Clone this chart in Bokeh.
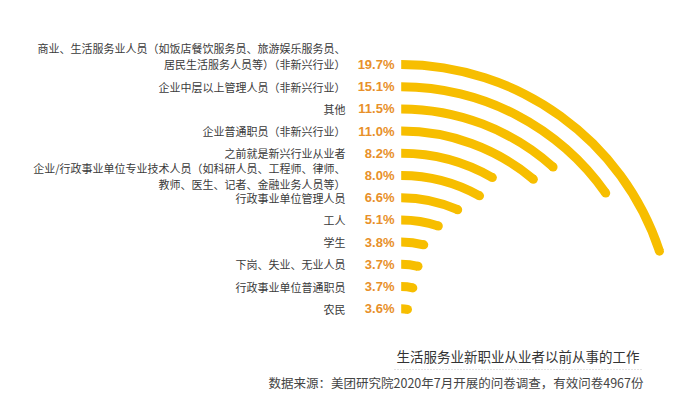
import math
from bokeh.plotting import figure
from bokeh.models import Range1d, ColumnDataSource
from bokeh.core.properties import value
from bokeh.embed import file_html
from bokeh.resources import INLINE

# ---- data ----
categories = [
    "商业、生活服务业人员（如饭店餐饮服务员、旅游娱乐服务员、\n居民生活服务人员等）（非新兴行业）",
    "企业中层以上管理人员（非新兴行业）",
    "其他",
    "企业普通职员（非新兴行业）",
    "之前就是新兴行业从业者",
    "企业/行政事业单位专业技术人员（如科研人员、工程师、律师、\n教师、医生、记者、金融业务人员等）",
    "行政事业单位管理人员",
    "工人",
    "学生",
    "下岗、失业、无业人员",
    "行政事业单位普通职员",
    "农民",
]
values = [19.7, 15.1, 11.5, 11.0, 8.2, 8.0, 6.6, 5.1, 3.8, 3.7, 3.7, 3.6]
title_text = "生活服务业新职业从业者以前从事的工作"
source_text = "数据来源：美团研究院2020年7月开展的问卷调查，有效问卷4967份"

# ---- layout / style ----
W, H = 686, 396
BAR = "#F7BE00"
PCT = "#E8902A"
CJK = "Noto Sans CJK SC"
deg_per_pct = 3.64
cx, cy = 400.7, -336.0
row0, row_step = 64.0, 22.2
half_w = 4.5
label_line_offsets = {0: [-17, -1], 5: [-8, 8]}

p = figure(width=W, height=H, x_range=Range1d(0, W), y_range=Range1d(-H, 0),
           output_backend="svg", toolbar_location=None, min_border=0)
p.axis.visible = False
p.xgrid.visible = False
p.ygrid.visible = False
p.outline_line_color = None

n = len(values)
rows = [-(row0 + row_step * i) for i in range(n)]
radii = [r - cy for r in rows]
thetas = [math.radians(v * deg_per_pct) for v in values]

src = ColumnDataSource(dict(
    r_in=[r - half_w for r in radii],
    r_out=[r + half_w for r in radii],
    start=[math.pi / 2 - t for t in thetas],
    end=[math.pi / 2] * n,
    ex=[cx + r * math.sin(t) for r, t in zip(radii, thetas)],
    ey=[cy + r * math.cos(t) for r, t in zip(radii, thetas)],
    row=rows,
    pct=[f"{v:.1f}%" for v in values],
))

p.annular_wedge(x=cx, y=cy, inner_radius="r_in", outer_radius="r_out",
                start_angle="start", end_angle="end", source=src,
                fill_color=BAR, line_color=None)
p.circle(x="ex", y="ey", radius=half_w, source=src, fill_color=BAR, line_color=None)

p.text(x=394, y="row", text="pct", source=src, text_align="right", text_baseline="middle",
       text_font=value("Liberation Sans"), text_font_style="bold", text_font_size="13px",
       text_color=PCT)

lx, ly, lt = [], [], []
for i, cat in enumerate(categories):
    lines = cat.split("\n")
    offs = label_line_offsets.get(i, [0] * len(lines))
    for line, o in zip(lines, offs):
        lx.append(345)
        ly.append(rows[i] - o)
        lt.append(line)
p.text(x=lx, y=ly, text=lt, text_align="right", text_baseline="middle",
       text_font=value(CJK), text_font_size="11px", text_color="#3a3a3a")

p.text(x=[639], y=[-355], text=[title_text], text_align="right", text_baseline="middle",
       text_font=value(CJK), text_font_size="13.5px", text_color="#333333")
p.segment(x0=[394], y0=[-369], x1=[641], y1=[-369], line_color="#c8c8c8",
          line_dash="1 2", line_width=1)
p.text(x=[643], y=[-382], text=[source_text], text_align="right", text_baseline="middle",
       text_font=value(CJK), text_font_size="12.5px", text_color="#444444")

open("out.html", "w").write(file_html(p, INLINE))
